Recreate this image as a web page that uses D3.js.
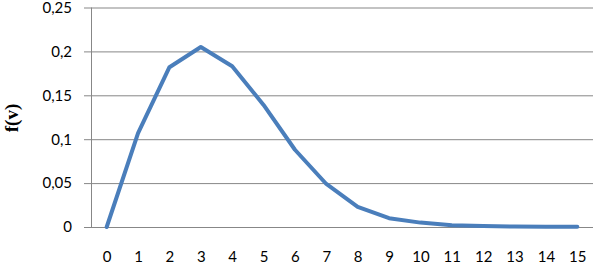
<!DOCTYPE html>
<html>
<head>
<meta charset="utf-8">
<script src="https://cdn.jsdelivr.net/npm/d3@7"></script>
<style>
  body { margin: 0; background: #fff; }
  svg { display: block; }
</style>
</head>
<body>
<div class="container"></div>
<script>
const WIDTH = 597;
const HEIGHT = 267;
const LEFT = 91, RIGHT = 593, TOP = 7.5, BOTTOM = 227;

const categories = ["0","1","2","3","4","5","6","7","8","9","10","11","12","13","14","15"];
const values = [0, 0.107, 0.182, 0.205, 0.183, 0.139, 0.088, 0.049, 0.023, 0.010, 0.005, 0.002, 0.001, 0.0006, 0.0003, 0.0002];
const yTicks = [0, 0.05, 0.1, 0.15, 0.2, 0.25];
const yLabels = ["0", "0,05", "0,1", "0,15", "0,2", "0,25"];
const yTitle = "f(v)";

var svg = d3.select('.container').append('svg')
  .attr('width', WIDTH)
  .attr('height', HEIGHT);

var x = d3.scalePoint()
  .domain(categories)
  .range([LEFT, RIGHT])
  .padding(0.5);

var y = d3.scaleLinear()
  .domain([0, 0.25])
  .range([BOTTOM, TOP]);

// gridlines + y ticks
var yAxis = d3.axisLeft(y)
  .tickValues(yTicks)
  .tickSize(-(RIGHT - LEFT))
  .tickFormat(function(d, i){ return yLabels[i]; })
  .tickPadding(19);

var gy = svg.append('g')
  .attr('transform', 'translate(' + LEFT + ',0)')
  .call(yAxis);
gy.select('.domain').remove();
gy.selectAll('.tick line')
  .attr('x1', -7)
  .attr('stroke', '#878787')
  .attr('stroke-width', 1);
gy.selectAll('.tick text')
  .attr('font-family', 'Lato, "Open Sans", sans-serif')
  .attr('font-size', 15)
  .attr('fill', '#000');

// vertical axis line
svg.append('line')
  .attr('x1', LEFT + 0.5).attr('x2', LEFT + 0.5)
  .attr('y1', y(0.25)).attr('y2', BOTTOM)
  .attr('stroke', '#878787');

// x labels
var xAxis = d3.axisBottom(x).tickSize(0).tickPadding(24);
var gx = svg.append('g')
  .attr('transform', 'translate(0,' + BOTTOM + ')')
  .call(xAxis);
gx.select('.domain').remove();
gx.selectAll('.tick text')
  .attr('font-family', 'Lato, "Open Sans", sans-serif')
  .attr('font-size', 15)
  .attr('fill', '#000');

// y title
svg.append('text')
  .attr('transform', 'translate(18,' + 118 + ') rotate(-90)')
  .attr('text-anchor', 'middle')
  .attr('font-family', '"Liberation Serif", serif')
  .attr('font-weight', 'bold')
  .attr('font-size', 19)
  .text(yTitle);

// series line
var line = d3.line()
  .x(function(d, i){ return x(categories[i]); })
  .y(function(d){ return y(d); });

svg.append('path')
  .datum(values)
  .attr('d', line)
  .attr('fill', 'none')
  .attr('stroke', '#4A7EBB')
  .attr('stroke-width', 4)
  .attr('stroke-linejoin', 'round')
  .attr('stroke-linecap', 'round');
</script>
</body>
</html>
